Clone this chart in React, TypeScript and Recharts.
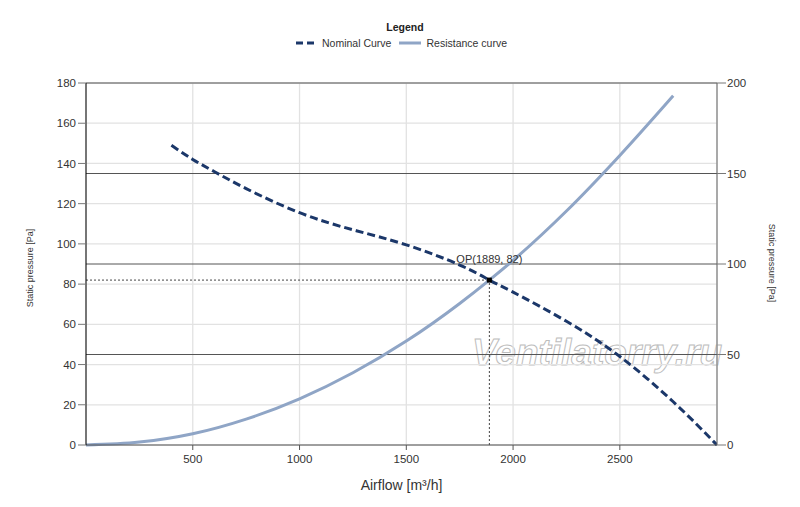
import React from 'react';

import {
  ComposedChart,
  Line,
  XAxis,
  YAxis,
  CartesianGrid,
  ReferenceLine,
  ReferenceDot,
} from 'recharts';

// fan curve, left axis [Pa]
const nominalAirflow = [400, 500, 600, 750, 1000, 1250, 1500, 1750, 1889, 2000, 2250, 2500, 2750, 2955];
const nominalPressure = [149, 142, 136, 127.5, 115.5, 107, 99.5, 89.5, 82, 76, 61.5, 44, 21.5, 0];

// system resistance, right axis [Pa]
const resistanceAirflow = [0, 250, 500, 750, 1000, 1250, 1500, 1750, 1889, 2000, 2250, 2500, 2750];
const resistancePressure = [0, 1.6, 6.2, 14.3, 25.5, 39.9, 57.4, 78.2, 91.1, 102, 129.3, 160, 193];

const airflowTicks = [500, 1000, 1500, 2000, 2500];
const leftTicks = [0, 20, 40, 60, 80, 100, 120, 140, 160, 180];
const rightTicks = [0, 50, 100, 150, 200];
const rightGridLines = [50, 100, 150, 200];

const opAirflow = 1889;
const opPressure = 82;

const nominalData = nominalAirflow.map((x, i) => ({ x, y: nominalPressure[i] }));
const resistanceData = resistanceAirflow.map((x, i) => ({ x, y: resistancePressure[i] }));

const FONT = '"Liberation Sans", Arial, sans-serif';
const NOMINAL = '#1b3769';
const RESISTANCE = '#8fa5c6';

const OpMarker = (props: any) => {
  const { cx, cy } = props;
  return <rect x={cx - 2.5} y={cy - 2.5} width={5} height={5} fill="#000" />;
};

const LeftTitle = () => (
  <text
    x={33}
    y={268}
    transform="rotate(-90 33 268)"
    textAnchor="middle"
    fontSize={9}
    fill="#333"
    fontFamily={FONT}
  >
    Static pressure [Pa]
  </text>
);

const RightTitle = () => (
  <text
    x={769}
    y={263}
    transform="rotate(90 769 263)"
    textAnchor="middle"
    fontSize={9}
    fill="#333"
    fontFamily={FONT}
  >
    Static pressure [Pa]
  </text>
);

const ChartLegend = () => (
  <div style={{ position: 'absolute', left: 0, top: 0, width: 800, fontFamily: FONT, color: '#222' }}>
    <div style={{ position: 'absolute', left: 355, top: 21, width: 100, textAlign: 'center', fontSize: 10.5, fontWeight: 'bold' }}>
      Legend
    </div>
    <div style={{ position: 'absolute', left: 296, top: 37, display: 'flex', alignItems: 'center', fontSize: 10.5 }}>
      <svg width={20} height={6}>
        <line x1={0} y1={3} x2={20} y2={3} stroke={NOMINAL} strokeWidth={3} strokeDasharray="7 4" />
      </svg>
      <span style={{ marginLeft: 6, color: '#333' }}>Nominal Curve</span>
      <svg width={22} height={6} style={{ marginLeft: 8 }}>
        <line x1={0} y1={3} x2={22} y2={3} stroke={RESISTANCE} strokeWidth={3} />
      </svg>
      <span style={{ marginLeft: 5, color: '#333' }}>Resistance curve</span>
    </div>
  </div>
);

const Watermark = () => (
  <svg width={800} height={507} style={{ position: 'absolute', left: 0, top: 0 }}>
    <text
      x={472}
      y={365}
      fontSize={37}
      fontStyle="italic"
      fontWeight="bold"
      fontFamily={FONT}
      fill="none"
      stroke="#bdbdbd"
      strokeWidth={1}
    >
      Ventilatorry.ru
    </text>
  </svg>
);

export default function App() {
  return (
    <div style={{ position: 'absolute', left: 0, top: 0, width: 800, height: 507, background: '#fff' }}>
      <Watermark />
      <div style={{ position: 'absolute', left: 0, top: 0 }}>
        <ComposedChart width={800} height={507} margin={{ top: 83, right: 23, bottom: 0, left: 26 }}>
          <CartesianGrid yAxisId="left" stroke="#e2e2e2" strokeWidth={1.3} />
          {rightGridLines.map((v) => (
            <ReferenceLine key={v} yAxisId="right" y={v} stroke="#555" strokeWidth={1} />
          ))}
          <XAxis
            type="number"
            dataKey="x"
            domain={[0, 2955]}
            allowDataOverflow
            ticks={airflowTicks}
            height={62}
            stroke="#555"
            tickSize={5}
            tickMargin={5}
            tick={{ fill: '#333', fontSize: 11.5, fontFamily: FONT }}
            label={{ value: 'Airflow [m³/h]', position: 'insideBottom', offset: 17, fill: '#333', fontSize: 14, fontFamily: FONT }}
          />
          <YAxis
            yAxisId="left"
            domain={[0, 180]}
            ticks={leftTicks}
            width={60}
            axisLine={{ stroke: '#000' }}
            tickLine={{ stroke: '#777' }}
            tickSize={8}
            tickMargin={2}
            tick={{ fill: '#333', fontSize: 11.5, fontFamily: FONT }}
            label={{ content: () => <LeftTitle /> }}
          />
          <YAxis
            yAxisId="right"
            orientation="right"
            domain={[0, 200]}
            ticks={rightTicks}
            width={60}
            axisLine={{ stroke: '#666' }}
            tickLine={{ stroke: '#777' }}
            tickSize={9}
            tickMargin={1}
            tick={{ fill: '#333', fontSize: 11.5, fontFamily: FONT }}
            label={{ content: () => <RightTitle /> }}
          />
          <ReferenceLine
            yAxisId="left"
            segment={[{ x: 0, y: opPressure }, { x: opAirflow, y: opPressure }]}
            stroke="#444"
            strokeDasharray="2 2"
          />
          <ReferenceLine
            yAxisId="left"
            segment={[{ x: opAirflow, y: 0 }, { x: opAirflow, y: opPressure }]}
            stroke="#444"
            strokeDasharray="2 2"
          />
          <Line
            yAxisId="right"
            data={resistanceData}
            dataKey="y"
            type="monotone"
            stroke={RESISTANCE}
            strokeWidth={3}
            dot={false}
            isAnimationActive={false}
          />
          <Line
            yAxisId="left"
            data={nominalData}
            dataKey="y"
            type="natural"
            stroke={NOMINAL}
            strokeWidth={3}
            strokeDasharray="8 4"
            dot={false}
            isAnimationActive={false}
          />
          <ReferenceDot
            yAxisId="left"
            x={opAirflow}
            y={opPressure}
            shape={OpMarker}
            label={{ value: `OP(${opAirflow}, ${opPressure})`, position: 'top', offset: 7, fill: '#333', fontSize: 11, fontFamily: FONT }}
          />
        </ComposedChart>
      </div>
      <ChartLegend />
    </div>
  );
}
